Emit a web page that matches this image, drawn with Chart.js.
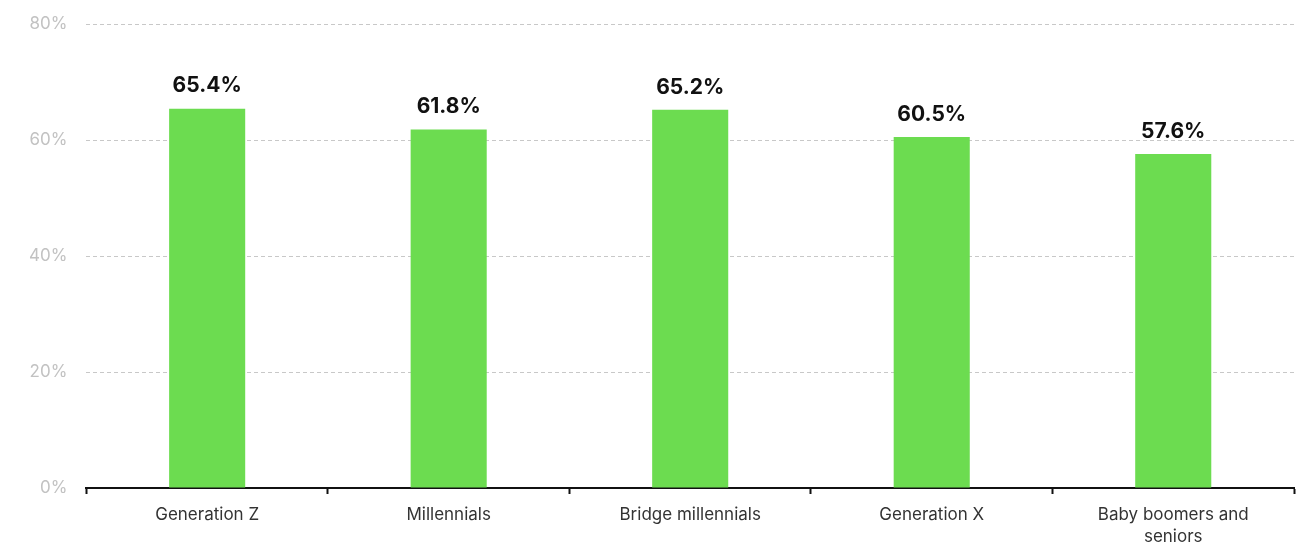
<!DOCTYPE html>
<html>
<head>
<meta charset="utf-8">
<script src="https://cdn.jsdelivr.net/npm/chart.js@4/dist/chart.umd.min.js"></script>
<style>
  html, body { margin: 0; padding: 0; background: #fff; }
  #wrap { width: 1307px; height: 544px; }
</style>
</head>
<body>
<div id="wrap"><canvas id="chart"></canvas></div>
<script>
const generations = ['Generation Z', 'Millennials', 'Bridge millennials', 'Generation X', ['Baby boomers and', 'seniors']]
const shares = [65.4, 61.8, 65.2, 60.5, 57.6]
const yTicks = [0, 20, 40, 60, 80]

// writes the value above each bar
const valueLabels = {
    id: 'valueLabels',
    afterDatasetsDraw(chart) {
        const ctx = chart.ctx
        const meta = chart.getDatasetMeta(0)
        ctx.save()
        ctx.font = 'bold 21px Inter, sans-serif'
        ctx.fillStyle = '#111'
        ctx.textAlign = 'center'
        ctx.textBaseline = 'bottom'
        meta.data.forEach((bar, i) => {
            ctx.fillText(shares[i].toFixed(1) + '%', bar.x, bar.y - 12)
        })
        ctx.restore()
    }
}

const ctx = document.getElementById('chart')

new Chart(ctx, {
    type: 'bar',
    data: {
        labels: generations,
        datasets: [{
            data: shares,
            backgroundColor: '#6cdc50',
            categoryPercentage: 1,
            barPercentage: 0.315
        }]
    },
    options: {
        responsive: true,
        maintainAspectRatio: false,
        animation: false,
        layout: { padding: { top: 24, right: 13, bottom: 0, left: 10 } },
        plugins: {
            legend: { display: false },
            tooltip: { enabled: false }
        },
        scales: {
            x: {
                offset: true,
                afterFit(axis) { axis.height = 56 },
                grid: {
                    offset: true,
                    drawOnChartArea: false,
                    drawTicks: true,
                    tickLength: 6,
                    tickWidth: 2,
                    tickColor: '#111'
                },
                border: { color: '#111', width: 2 },
                ticks: {
                    color: '#333',
                    font: { family: 'Inter, sans-serif', size: 17, lineHeight: 1.3 },
                    padding: 10,
                    maxRotation: 0
                }
            },
            y: {
                min: 0,
                max: 80,
                afterBuildTicks(axis) {
                    axis.ticks = yTicks.map(v => ({ value: v }))
                },
                // top line sits right at the layout padding
                afterFit(axis) { axis.paddingTop = 0 },
                border: { display: false, dash: [4, 3] },
                grid: {
                    color: '#c8c8c8',
                    drawTicks: false,
                    lineWidth: 1
                },
                ticks: {
                    color: '#c2c2c2',
                    font: { family: 'Inter, sans-serif', size: 17 },
                    padding: 19,
                    callback: v => v + '%'
                }
            }
        }
    },
    plugins: [valueLabels]
})
</script>
</body>
</html>
